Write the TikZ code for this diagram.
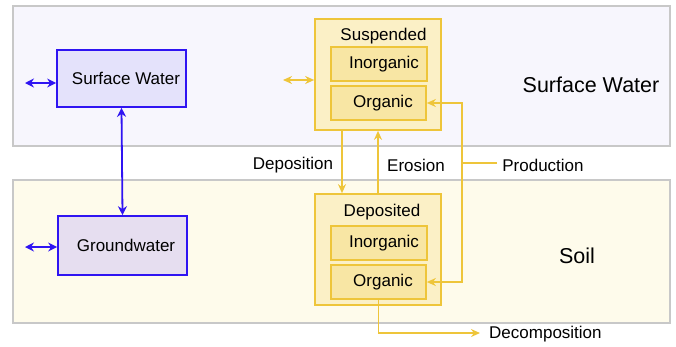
\documentclass[tikz,border=0pt]{standalone}
\usepackage{fontspec}
\setmainfont{Liberation Sans}
\usetikzlibrary{arrows.meta}
\definecolor{swfill}{HTML}{F7F6FD}
\definecolor{soilfill}{HTML}{FEFBEB}
\definecolor{regborder}{HTML}{C8C8C8}
\definecolor{bluec}{HTML}{2F14F2}
\definecolor{swbox}{HTML}{E4E2FB}
\definecolor{gwbox}{HTML}{E6DEF0}
\definecolor{yel}{HTML}{EEC53A}
\definecolor{outerfill}{HTML}{FBF0C6}
\definecolor{innerfill}{HTML}{F8E6A4}
\tikzset{
  region/.style={draw=regborder, line width=1.5pt},
  waterbox/.style={draw=bluec, line width=1.7pt, minimum width=129pt, font=\fontsize{17}{19}\selectfont, inner sep=0pt},
  outerbox/.style={draw=yel, fill=outerfill, line width=1.7pt, minimum width=126pt, minimum height=111pt, inner sep=0pt},
  innerbox/.style={draw=yel, fill=innerfill, line width=1.7pt, minimum width=96pt, minimum height=34pt, inner sep=0pt, font=\fontsize{17}{19}\selectfont},
  lbl/.style={font=\fontsize{17}{19}\selectfont, inner sep=0pt},
  biglbl/.style={font=\fontsize{21.5}{23}\selectfont, inner sep=0pt},
  barrow/.style={draw=bluec, line width=1.8pt, {Stealth[length=9pt,width=9pt]}-{Stealth[length=9pt,width=9pt]}},
  yline/.style={draw=yel, line width=1.8pt},
  yarrow/.style={yline, -{Stealth[length=9pt,width=8pt]}},
  ydarrow/.style={yline, {Stealth[length=9pt,width=8pt]}-{Stealth[length=9pt,width=8pt]}},
}
\begin{document}
\begin{tikzpicture}[x=1pt,y=-1pt]
\useasboundingbox (0,0) rectangle (676,346);
% regions
\draw[region, fill=swfill] (13,6) rectangle (670,146);
\draw[region, fill=soilfill] (13,180) rectangle (670,323);
\node[biglbl] (swlbl) at (591,85) {Surface Water};
\node[biglbl] (soillbl) at (577,256) {Soil};
% water boxes
\node[waterbox, fill=swbox, minimum height=57pt] (sw) at (121.5,78.5) {\hspace*{9pt}Surface Water};
\node[waterbox, fill=gwbox, minimum height=59pt] (gw) at (122.5,245.5) {\hspace*{7pt}Groundwater};
\coordinate (swl) at (25,83);
\coordinate (gwl) at (25,247);
\draw[barrow] (swl) -- (swl -| sw.west);
\draw[barrow] (gwl) -- (gwl -| gw.west);
\draw[barrow] (sw.south) -- (gw.north);
% suspended
\node[outerbox] (susp) at (378,74.5) {};
\node[lbl] (susplbl) at (383.5,36) {Suspended};
\node[innerbox] (susinorg) at (379,64) {\hspace*{10pt}Inorganic};
\node[innerbox, minimum width=95pt] (susorg) at (378.5,103) {\hspace*{9pt}Organic};
\coordinate (susl) at (283,80);
\draw[ydarrow] (susl) -- (susl -| susp.west);
% deposited
\node[outerbox] (dep) at (378,249.5) {};
\node[lbl] (deplbl) at (382,212) {Deposited};
\node[innerbox] (depinorg) at (379,243) {\hspace*{10pt}Inorganic};
\node[innerbox, minimum width=95pt] (deporg) at (378.5,282) {\hspace*{9pt}Organic};
% deposition / erosion
\draw[yarrow] ([xshift=-36pt]susp.south) -- ([xshift=-36pt]dep.north);
\draw[yarrow] (dep.north) -- (susp.south);
\node[lbl] (deposition) at (293,165) {Deposition};
\node[lbl] (erosion) at (416,165) {Erosion};
% production
\node[lbl] (prod) at (543,165) {Production};
\coordinate (pj) at (462,163);
\draw[yline] ([xshift=-5pt]prod.west |- pj) -- (pj);
\draw[yarrow] (pj) |- (susorg.east);
\draw[yarrow] (pj) |- (deporg.east);
% decomposition
\node[lbl, anchor=west] (decomp) at (489,334) {Decomposition};
\coordinate (dc) at (378.5,333);
\draw[yarrow] (deporg.south) -- (dc) -- ([xshift=-9pt]decomp.west |- dc);
\end{tikzpicture}
\end{document}
